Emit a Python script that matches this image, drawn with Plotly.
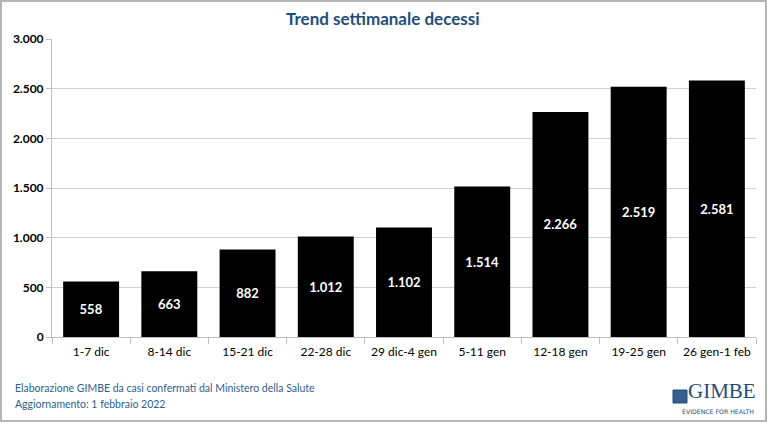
import plotly.graph_objects as go

categories = ["1-7 dic", "8-14 dic", "15-21 dic", "22-28 dic", "29 dic-4 gen",
              "5-11 gen", "12-18 gen", "19-25 gen", "26 gen-1 feb"]
decessi = [558, 663, 882, 1012, 1102, 1514, 2266, 2519, 2581]
y_ticks = [0, 500, 1000, 1500, 2000, 2500, 3000]

title_text = "Trend settimanale decessi"
footer_lines = ["Elaborazione GIMBE da casi confermati dal Ministero della Salute",
                "Aggiornamento: 1 febbraio 2022"]

W, H = 767, 425
L, R, T, B = 52, 11, 39, 88
PW, PH = W - L - R, H - T - B


def xp(px):
    return (px - L) / PW


def yp(py):
    return (H - B - py) / PH


FONT = "Lato"
BLUE = "#1f4e79"
FOOT = "#2f5f8f"

fig = go.Figure()
fig.add_trace(go.Bar(
    x=categories, y=decessi,
    marker=dict(color="#000000", line=dict(width=0)),
    texttemplate="%{y:,d}",
    textposition="inside",
    insidetextanchor="middle",
    textangle=0,
    insidetextfont=dict(color="white", size=13, family=FONT, weight="bold"),
    hoverinfo="skip",
))

annotations = [
    dict(text=title_text, x=xp(383), y=yp(18), xref="paper", yref="paper",
         xanchor="center", yanchor="middle", showarrow=False,
         font=dict(family=FONT, size=17, color=BLUE, weight="bold")),
    dict(text=footer_lines[0], x=xp(13), y=yp(388), xref="paper", yref="paper",
         xanchor="left", yanchor="middle", showarrow=False,
         font=dict(family=FONT, size=10.5, color=FOOT)),
    dict(text=footer_lines[1], x=xp(13), y=yp(404), xref="paper", yref="paper",
         xanchor="left", yanchor="middle", showarrow=False,
         font=dict(family=FONT, size=10.5, color=FOOT)),
    dict(text="GIMBE", x=xp(758), y=yp(405), xref="paper", yref="paper",
         xanchor="right", yanchor="bottom", showarrow=False,
         font=dict(family="Liberation Serif", size=21, color=BLUE)),
    dict(text="EVIDENCE FOR HEALTH", x=xp(756), y=yp(406), xref="paper", yref="paper",
         xanchor="right", yanchor="top", showarrow=False,
         font=dict(family="DejaVu Sans", size=6.2, color=BLUE)),
]

shapes = [
    # outer frame
    dict(type="rect", xref="paper", yref="paper",
         x0=xp(1), x1=xp(766), y0=yp(1), y1=yp(421),
         line=dict(color="#b5b5b5", width=2), fillcolor="rgba(0,0,0,0)", layer="below"),
    # logo icon
    dict(type="rect", xref="paper", yref="paper",
         x0=xp(673), x1=xp(687), y0=yp(390), y1=yp(403),
         line=dict(color=BLUE, width=1), fillcolor="#3a5f8f"),
]

fig.update_layout(
    width=W, height=H,
    margin=dict(l=L, r=R, t=T, b=B),
    paper_bgcolor="white", plot_bgcolor="white",
    separators=",.",
    bargap=0.285,
    showlegend=False,
    annotations=annotations,
    shapes=shapes,
    font=dict(family=FONT, color="#000000"),
)
fig.update_yaxes(
    range=[0, 3000], tickvals=y_ticks, tickformat=",d",
    showgrid=True, gridcolor="#d0d0d0", gridwidth=1,
    showline=True, linecolor="#bfbfbf", linewidth=1,
    ticks="outside", ticklen=5, tickcolor="#bfbfbf",
    tickfont=dict(family=FONT, size=12, color="#000000", weight="bold"),
    zeroline=False,
)
fig.update_xaxes(
    showline=True, linecolor="#bfbfbf", linewidth=1,
    ticks="outside", ticklen=6, tickcolor="#bfbfbf", tickson="boundaries",
    ticklabelstandoff=4,
    tickfont=dict(family=FONT, size=12, color="#000000"),
    showgrid=False,
)

fig.write_html("out.html")
